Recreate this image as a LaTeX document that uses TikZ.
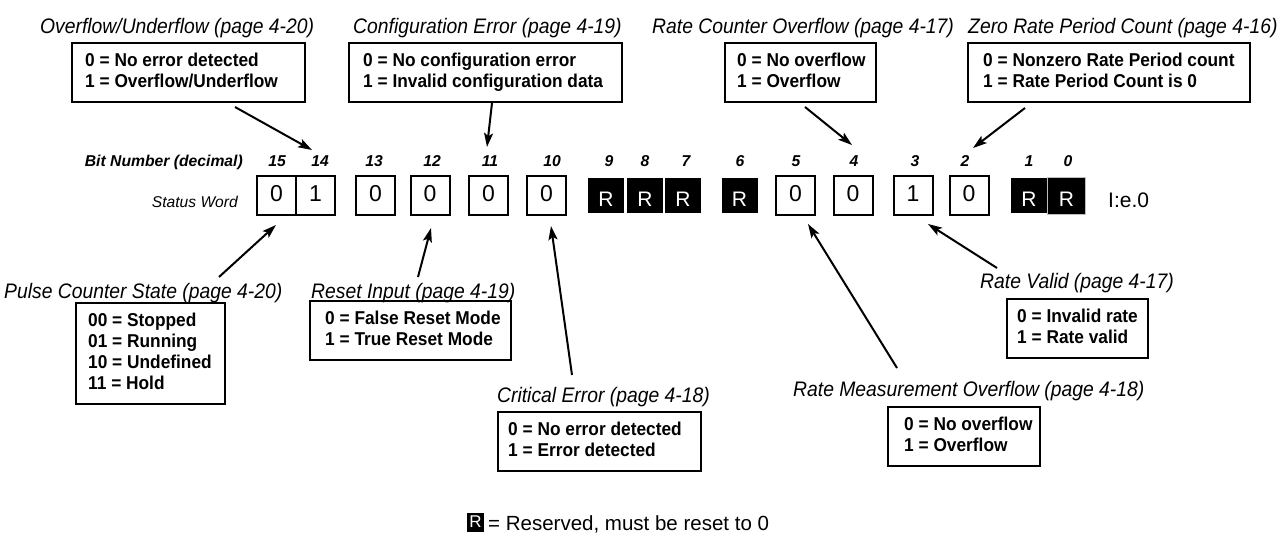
\documentclass[tikz,border=0pt]{standalone}
\usepackage{fontspec}
\setmainfont{Liberation Sans}
\newfontfamily\titlefam[FakeStretch=0.92]{Liberation Sans}
\newfontfamily\boxfam[FakeStretch=0.93]{Liberation Sans}
\usetikzlibrary{arrows.meta}
\newcommand{\ttlfont}{\titlefam\itshape\fontsize{21}{24}\selectfont}
\newcommand{\bxfont}{\boxfam\bfseries\fontsize{18.6}{21}\selectfont}
\newcommand{\bitfont}{\bfseries\itshape\fontsize{15.7}{18}\selectfont}
\tikzset{
  ttl/.style={font=\ttlfont, anchor=base west, inner sep=0pt},
  dbox/.style={draw, line width=1.2pt, inner sep=0pt},
  btxt/.style={font=\bxfont, anchor=north west, inner sep=0pt, align=left},
  wbit/.style={draw, line width=2pt, minimum width=39pt, minimum height=39pt, inner sep=0pt,
    font=\fontsize{23}{26}\selectfont, text depth=4pt},
  kbit/.style={fill=black, text=white, minimum width=36pt, minimum height=35pt, inner sep=0pt,
    font=\fontsize{21}{24}\selectfont, text height=22pt, text depth=0pt},
  bitno/.style={font=\bitfont, anchor=base, inner sep=0pt},
  arr/.style={line width=2pt, -{Stealth[length=14pt, width=9pt, inset=3pt]}},
}
\begin{document}
\begin{tikzpicture}[x=1pt,y=-1pt]
\useasboundingbox (0,0) rectangle (1288,546);

% ---- titles ----
\node[ttl] (tovf) at (40,33) {Overflow/Underflow (page 4-20)};
\node[ttl] (tcfg) at (353,33) {Configuration Error (page 4-19)};
\node[ttl] (trco) at (652,33) {Rate Counter Overflow (page 4-17)};
\node[ttl] (tzrp) at (968,33) {Zero Rate Period Count (page 4-16)};
\node[ttl] (tpcs) at (4,298) {Pulse Counter State (page 4-20)};
\node[ttl] (trst) at (311,298) {Reset Input (page 4-19)};
\node[ttl] (tce) at (497,402) {Critical Error (page 4-18)};
\node[ttl] (trm) at (793,396) {Rate Measurement Overflow (page 4-18)};
\node[ttl] (trv) at (980,288) {Rate Valid (page 4-17)};

% ---- description boxes ----
\node[dbox, minimum width=233pt, minimum height=59pt] (bovf) at (188.5,72.5) {};
\node[btxt] (xovf) at (85,53) {0 = No error detected\\1 = Overflow/Underflow};
\node[dbox, minimum width=273pt, minimum height=59pt] (bcfg) at (485.5,72.5) {};
\node[btxt] (xcfg) at (363,53) {0 = No configuration error\\1 = Invalid configuration data};
\node[dbox, minimum width=151pt, minimum height=59pt] (brco) at (800.5,72.5) {};
\node[btxt] (xrco) at (737,53) {0 = No overflow\\1 = Overflow};
\node[dbox, minimum width=282pt, minimum height=59pt] (bzrp) at (1109,72.5) {};
\node[btxt] (xzrp) at (983,53) {0 = Nonzero Rate Period count\\1 = Rate Period Count is 0};

\node[dbox, minimum width=149pt, minimum height=101pt] (bpcs) at (150.5,353.5) {};
\node[btxt] (xpcs) at (88,313) {00 = Stopped\\01 = Running\\10 = Undefined\\11 = Hold};
\node[dbox, minimum width=201pt, minimum height=59pt] (brst) at (410.5,330.5) {};
\node[btxt] (xrst) at (325,311) {0 = False Reset Mode\\1 = True Reset Mode};
\node[dbox, minimum width=203pt, minimum height=59pt] (bce) at (599.5,441.5) {};
\node[btxt] (xce) at (508,422) {0 = No error detected\\1 = Error detected};
\node[dbox, minimum width=152pt, minimum height=59pt] (brm) at (964,436.5) {};
\node[btxt] (xrm) at (904,417) {0 = No overflow\\1 = Overflow};
\node[dbox, minimum width=141pt, minimum height=59pt] (brv) at (1077.5,328.5) {};
\node[btxt] (xrv) at (1017,309) {0 = Invalid rate\\1 = Rate valid};

% ---- bit numbers ----
\node[font=\bitfont, anchor=base east, inner sep=0pt] (bnl) at (243,166) {Bit Number (decimal)};
\foreach \n/\x in {15/277,14/320,13/374,12/432,11/490,10/552,9/609,8/645,7/686,6/740,5/796,4/854,3/915,2/965,1/1029,0/1068}
  \node[bitno] (n\n) at (\x,166) {\n};

% ---- status word ----
\node[font=\itshape\fontsize{15.6}{18}\selectfont, anchor=base east, inner sep=0pt] (swl) at (238,207) {Status Word};
\node[wbit] (b15) at (276.5,195.5) {0};
\node[wbit] (b14) at (315.5,195.5) {1};
\node[wbit] (b13) at (375.5,195.5) {0};
\node[wbit] (b12) at (430,195.5) {0};
\node[wbit] (b11) at (488.5,195.5) {0};
\node[wbit] (b10) at (546.5,195.5) {0};
\node[kbit] (b9) at (606,195.5) {R};
\node[kbit] (b8) at (645,195.5) {R};
\node[kbit] (b7) at (683,195.5) {R};
\node[kbit] (b6) at (739.5,195.5) {R};
\node[wbit] (b5) at (795.5,195.5) {0};
\node[wbit] (b4) at (853,195.5) {0};
\node[wbit] (b3) at (913,195.5) {1};
\node[wbit] (b2) at (969,195.5) {0};
\node[kbit] (b1) at (1029,195.5) {R};
\node[kbit, draw=black!25, line width=0.8pt, minimum width=38pt, minimum height=37pt] (b0) at (1066.5,195.5) {R};
\node[font=\fontsize{21}{24}\selectfont, anchor=base west, inner sep=0pt] (iel) at (1108,207) {I:e.0};

% ---- arrows ----
\coordinate (s14) at (235,107);  \coordinate (e14) at (312,150);
\coordinate (s11) at (492,103);  \coordinate (e11) at (487,147);
\coordinate (s4)  at (805,107);  \coordinate (e4)  at (852,145);
\coordinate (s2)  at (1025,108); \coordinate (e2)  at (973,148);
\coordinate (s15) at (219,277);  \coordinate (e15) at (276,225);
\coordinate (s12) at (418,277);  \coordinate (e12) at (431,228);
\coordinate (s10) at (572,375);  \coordinate (e10) at (551,226);
\coordinate (s5)  at (897,368);  \coordinate (e5)  at (808,224);
\coordinate (s3)  at (997,268);  \coordinate (e3)  at (928,224);
\foreach \k in {14,11,4,2,15,12,10,5,3}
  \draw[arr] (s\k) -- (e\k);

% ---- legend ----
\node[fill=black, text=white, minimum width=17pt, minimum height=19pt, inner sep=0pt,
  font=\fontsize{17}{20}\selectfont] (lgr) at (475.5,522) {R};
\node[font=\fontsize{20.5}{24}\selectfont, anchor=base west, inner sep=0pt] (lgt) at (488,530) {= Reserved, must be reset to 0};
\end{tikzpicture}
\end{document}
